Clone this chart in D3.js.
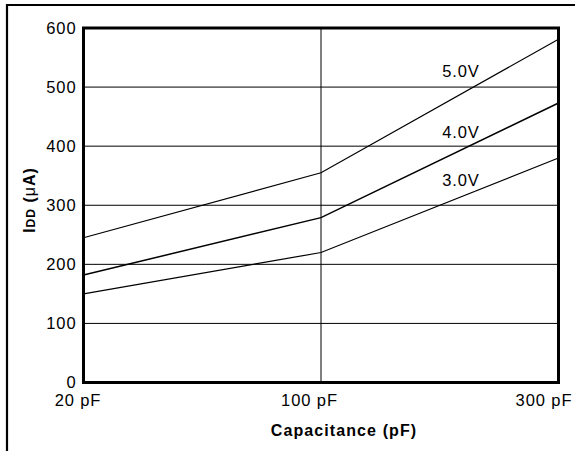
<!DOCTYPE html>
<html><head><meta charset="utf-8">
<script src="https://cdn.jsdelivr.net/npm/d3@7"></script>
<style>
body{margin:0;background:#fff;}
svg text{font-family:"Liberation Sans",Arial,Helvetica,sans-serif;fill:#000;}
</style></head>
<body><svg id="c" width="575" height="451"></svg>
<script>
const categories = ["20 pF", "100 pF", "300 pF"];
const yTicks = [0, 100, 200, 300, 400, 500, 600];
const seriesNames = ["5.0V", "4.0V", "3.0V"];
const v50 = [245, 355, 581];
const v40 = [182, 279, 473];
const v30 = [150, 220, 380];
const seriesValues = [v50, v40, v30];

const svg = d3.select("#c");
const m = {l: 83.5, r: 558.5, t: 28, b: 382.5};
const x = d3.scalePoint().domain(categories).range([m.l, m.r]);
const y = d3.scaleLinear().domain([0, 600]).range([m.b, m.t]);
const FS = "16.5px", LS = "0.9px";

// outer frame (left and top visible)
svg.append("path").attr("d", `M7,451 V5 H575`).attr("fill", "none").attr("stroke", "#000").attr("stroke-width", 2.2);

// grid
svg.append("g").selectAll("line").data(yTicks.slice(1, -1)).join("line")
  .attr("x1", m.l).attr("x2", m.r).attr("y1", d => y(d)).attr("y2", d => y(d))
  .attr("stroke", "#000").attr("stroke-width", 1);
svg.append("g").selectAll("line").data(categories.slice(1, -1)).join("line")
  .attr("x1", d => x(d)).attr("x2", d => x(d)).attr("y1", m.t).attr("y2", m.b)
  .attr("stroke", "#000").attr("stroke-width", 1);

// series
const line = d3.line().x((d, i) => x(categories[i])).y(d => y(d));
svg.append("g").selectAll("path").data(seriesValues).join("path")
  .attr("d", d => line(d)).attr("fill", "none").attr("stroke", "#000")
  .attr("stroke-width", (d, i) => i === 1 ? 1.5 : 1.2);

// plot border
svg.append("rect").attr("x", m.l).attr("y", m.t).attr("width", m.r - m.l).attr("height", m.b - m.t)
  .attr("fill", "none").attr("stroke", "#000").attr("stroke-width", 3);

// y axis labels
const ya = svg.append("g").attr("transform", `translate(${m.l},0)`)
  .call(d3.axisLeft(y).tickValues(yTicks).tickSize(0).tickPadding(7));
ya.select(".domain").remove();
ya.selectAll("text").style("font-size", FS).style("letter-spacing", LS).attr("fill", "#000");

// x axis labels
const xOff = [-6, -12, -15];
const xa = svg.append("g").attr("transform", `translate(0,${m.b})`)
  .call(d3.axisBottom(x).tickSize(0));
xa.select(".domain").remove();
xa.selectAll("text").style("font-size", FS).style("letter-spacing", LS).attr("fill", "#000")
  .attr("y", 23.5).attr("dy", 0).attr("dx", (d, i) => xOff[i]);

// series labels
const labelPos = [[461, 77], [461, 138], [461, 186]];
svg.append("g").selectAll("text").data(seriesNames).join("text")
  .attr("x", (d, i) => labelPos[i][0]).attr("y", (d, i) => labelPos[i][1])
  .attr("text-anchor", "middle").style("font-size", FS).style("letter-spacing", LS).text(d => d);

// axis titles
svg.append("text").attr("x", 344).attr("y", 435.5).attr("text-anchor", "middle")
  .style("font-size", "16px").style("letter-spacing", "1.1px").style("font-weight", "bold").text("Capacitance (pF)");
const yt = svg.append("text").attr("transform", "translate(35,200) rotate(-90)")
  .attr("text-anchor", "middle").style("font-size", "16px").style("letter-spacing", "1px").style("font-weight", "bold");
yt.append("tspan").text("I");
yt.append("tspan").style("font-size", "12px").text("DD");
yt.append("tspan").text(" (");
yt.append("tspan").style("font-weight", "normal").text("μ");
yt.append("tspan").text("A)");
</script></body></html>
